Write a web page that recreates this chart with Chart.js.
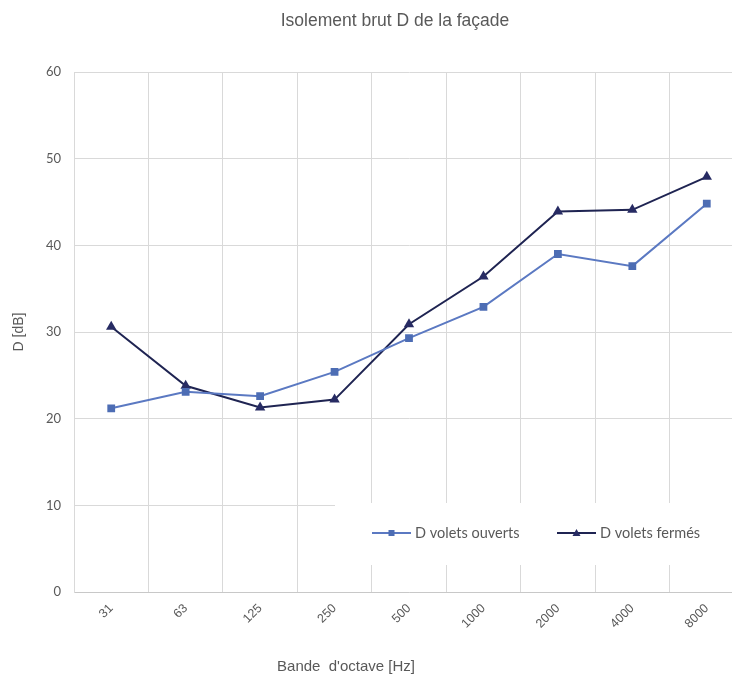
<!DOCTYPE html>
<html>
<head>
<meta charset="utf-8">
<script src="https://cdn.jsdelivr.net/npm/chart.js@4/dist/chart.umd.min.js"></script>
<style>
  html, body { margin: 0; padding: 0; background: #fff; overflow: hidden; }
  #wrap { width: 760px; height: 676px; }
</style>
</head>
<body>
<div id="wrap"><canvas id="c" width="760" height="676"></canvas></div>
<script>
// Octave bands (Hz)
const bands = ['31', '63', '125', '250', '500', '1000', '2000', '4000', '8000'];
// Facade insulation D [dB], shutters open
const voletsOuverts = [21.2, 23.1, 22.6, 25.4, 29.3, 32.9, 39.0, 37.6, 44.8];
// Facade insulation D [dB], shutters closed
const voletsFermes = [30.6, 23.8, 21.3, 22.2, 30.9, 36.4, 43.9, 44.1, 47.9];
// Y axis range
const yTicks = { min: 0, max: 60, step: 10 };

const chartTitle = 'Isolement brut D de la façade';
const xTitle = 'Bande  d\'octave [Hz]';
const yTitle = 'D [dB]';

const textGray = '#595959';
const openLine = '#5b79c2', openPoint = '#4d6db4';
const closedLine = '#1f2452', closedPoint = '#272b63';

// Titles drawn around the plot area
const titlePlugin = {
  id: 'titles',
  afterDraw(chart) {
    const ctx = chart.ctx;
    ctx.save();
    ctx.fillStyle = textGray;
    ctx.textAlign = 'center';
    ctx.textBaseline = 'middle';
    ctx.font = '17.5px "Liberation Sans", Arial, sans-serif';
    ctx.fillText(chartTitle, 395, 21);
    ctx.font = '15px "Liberation Sans", Arial, sans-serif';
    ctx.fillText(xTitle, 346, 667);
    ctx.font = '14px "Liberation Sans", Arial, sans-serif';
    ctx.translate(19, 332);
    ctx.rotate(-Math.PI / 2);
    ctx.fillText(yTitle, 0, 0);
    ctx.restore();
  }
};

// Legend inside the plot area on a white panel
const legendPlugin = {
  id: 'innerLegend',
  beforeDatasetsDraw(chart) {
    const ctx = chart.ctx;
    const a = chart.chartArea;
    ctx.save();
    ctx.fillStyle = '#ffffff';
    ctx.fillRect(335, 503, a.right - 335 + 20, 62);
    ctx.restore();
  },
  afterDatasetsDraw(chart) {
    const ctx = chart.ctx;
    const y = 533;
    const items = [
      { x: 372, ds: chart.data.datasets[0], shape: 'rect' },
      { x: 557, ds: chart.data.datasets[1], shape: 'tri' }
    ];
    ctx.save();
    ctx.font = '14.5px Lato, "Liberation Sans", sans-serif';
    ctx.textBaseline = 'middle';
    ctx.textAlign = 'left';
    items.forEach(it => {
      ctx.strokeStyle = it.ds.borderColor;
      ctx.lineWidth = 2;
      ctx.beginPath();
      ctx.moveTo(it.x, y);
      ctx.lineTo(it.x + 39, y);
      ctx.stroke();
      const cx = it.x + 19.5;
      ctx.fillStyle = it.ds.pointBackgroundColor;
      if (it.shape === 'rect') {
        ctx.fillRect(cx - 3, y - 3, 6, 6);
      } else {
        ctx.beginPath();
        ctx.moveTo(cx, y - 4);
        ctx.lineTo(cx + 4, y + 3);
        ctx.lineTo(cx - 4, y + 3);
        ctx.closePath();
        ctx.fill();
      }
      ctx.fillStyle = textGray;
      ctx.fillText(it.ds.label, it.x + 43, y);
    });
    ctx.restore();
  }
};

new Chart(document.getElementById('c'), {
  type: 'line',
  data: {
    labels: bands,
    datasets: [
      {
        label: 'D volets ouverts',
        data: voletsOuverts,
        borderColor: openLine,
        backgroundColor: openPoint,
        pointBackgroundColor: openPoint,
        pointBorderColor: openPoint,
        borderWidth: 2,
        pointStyle: 'rect',
        pointRadius: 5.5,
        pointBorderWidth: 0,
        tension: 0
      },
      {
        label: 'D volets fermés',
        data: voletsFermes,
        borderColor: closedLine,
        backgroundColor: closedPoint,
        pointBackgroundColor: closedPoint,
        pointBorderColor: closedPoint,
        borderWidth: 2,
        pointStyle: 'triangle',
        pointRadius: 6,
        pointBorderWidth: 0,
        tension: 0
      }
    ]
  },
  options: {
    responsive: false,
    animation: false,
    layout: { padding: { left: 0, top: 72, right: 16, bottom: 0 } },
    plugins: {
      legend: { display: false },
      title: { display: false },
      tooltip: { enabled: false }
    },
    scales: {
      x: {
        offset: true,
        grid: { offset: true, color: '#d9d9d9', lineWidth: 1, drawTicks: false },
        border: { color: '#c8c8c8', width: 1 },
        ticks: {
          color: textGray,
          font: { family: '"Liberation Sans", Arial, sans-serif', size: 12.5 },
          minRotation: 45,
          maxRotation: 45,
          padding: 9
        },
        afterFit(scale) { scale.height = 84; }
      },
      y: {
        min: yTicks.min,
        max: yTicks.max,
        grid: { color: '#d9d9d9', lineWidth: 1, drawTicks: false },
        border: { color: '#d9d9d9', width: 1 },
        ticks: {
          stepSize: yTicks.step,
          color: textGray,
          font: { family: 'Lato, "Liberation Sans", sans-serif', size: 13 },
          padding: 13
        },
        afterFit(scale) { scale.width = 74; }
      }
    }
  },
  plugins: [titlePlugin, legendPlugin]
});
</script>
</body>
</html>
